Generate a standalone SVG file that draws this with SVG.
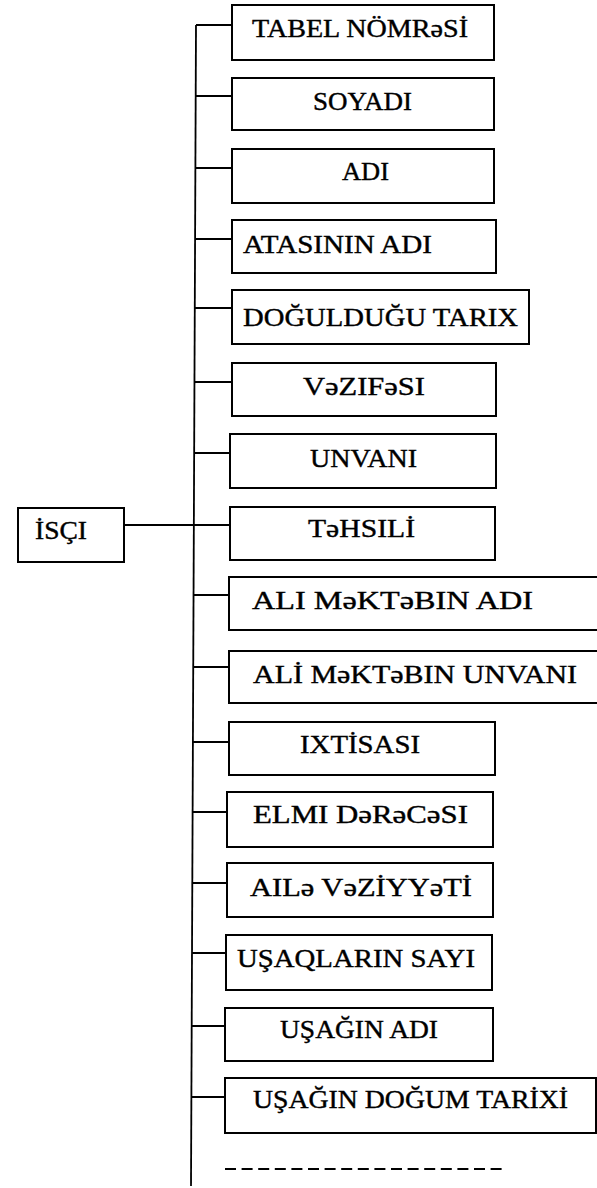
<svg xmlns="http://www.w3.org/2000/svg" width="597" height="1188" viewBox="0 0 597 1188">
<style>
.box{fill:#fff;stroke:#000;stroke-width:2}
.lbl{font-family:"Liberation Serif","Times New Roman",serif;font-size:26px;fill:#000;stroke:#000;stroke-width:0.4}
.ln{stroke:#000;stroke-width:1.8;fill:none}
</style>
<rect width="597" height="1188" fill="#fff"/>
<g id="connectors">
<path class="ln" d="M196,25 L191,1186"/>
<path class="ln" d="M196,25 H232"/>
<path class="ln" d="M195.7,96 H232"/>
<path class="ln" d="M195.4,168 H232"/>
<path class="ln" d="M195.1,239 H232"/>
<path class="ln" d="M194.8,308 H232"/>
<path class="ln" d="M194.5,382 H232"/>
<path class="ln" d="M194.2,453 H230"/>
<path class="ln" d="M124,525 H230"/>
<path class="ln" d="M193.6,595 H229"/>
<path class="ln" d="M193.3,667 H229"/>
<path class="ln" d="M193,742 H229"/>
<path class="ln" d="M192.7,812 H227"/>
<path class="ln" d="M192.4,883 H227"/>
<path class="ln" d="M192.1,953 H226"/>
<path class="ln" d="M191.8,1026 H225"/>
<path class="ln" d="M191.5,1097 H225"/>
<path class="ln" d="M225,1169 H507" stroke-dasharray="11,5.6"/>
</g>
<g id="isci"><rect class="box" x="18" y="508" width="106" height="54"/><text class="lbl" x="35" y="539" textLength="52" lengthAdjust="spacingAndGlyphs">İSÇI</text></g>
<g id="n1"><rect class="box" x="232" y="5" width="262" height="55"/><text class="lbl" x="252" y="37" textLength="216" lengthAdjust="spacingAndGlyphs">TABEL NÖMRəSİ</text></g>
<g id="n2"><rect class="box" x="232" y="78" width="262" height="52"/><text class="lbl" x="313" y="110" textLength="99" lengthAdjust="spacingAndGlyphs">SOYADI</text></g>
<g id="n3"><rect class="box" x="232" y="149" width="262" height="54"/><text class="lbl" x="342" y="180" textLength="47" lengthAdjust="spacingAndGlyphs">ADI</text></g>
<g id="n4"><rect class="box" x="232" y="220" width="264" height="53"/><text class="lbl" x="243" y="253" textLength="189" lengthAdjust="spacingAndGlyphs">ATASININ ADI</text></g>
<g id="n5"><rect class="box" x="232" y="290" width="297" height="54"/><text class="lbl" x="243" y="326" textLength="275" lengthAdjust="spacingAndGlyphs">DOĞULDUĞU TARIX</text></g>
<g id="n6"><rect class="box" x="232" y="363" width="264" height="53"/><text class="lbl" x="303" y="395" textLength="122" lengthAdjust="spacingAndGlyphs">VəZIFəSI</text></g>
<g id="n7"><rect class="box" x="230" y="434" width="266" height="54"/><text class="lbl" x="310" y="467" textLength="107" lengthAdjust="spacingAndGlyphs">UNVANI</text></g>
<g id="n8"><rect class="box" x="230" y="507" width="265" height="53"/><text class="lbl" x="308" y="537" textLength="107" lengthAdjust="spacingAndGlyphs">TəHSILİ</text></g>
<g id="n9"><rect class="box" x="229" y="577" width="380" height="53"/><text class="lbl" x="252" y="609" textLength="281" lengthAdjust="spacingAndGlyphs">ALI MəKTəBIN ADI</text></g>
<g id="n10"><rect class="box" x="229" y="651" width="380" height="52"/><text class="lbl" x="253" y="683" textLength="324" lengthAdjust="spacingAndGlyphs">ALİ MəKTəBIN UNVANI</text></g>
<g id="n11"><rect class="box" x="229" y="722" width="266" height="53"/><text class="lbl" x="300" y="753" textLength="120" lengthAdjust="spacingAndGlyphs">IXTİSASI</text></g>
<g id="n12"><rect class="box" x="227" y="792" width="266" height="55"/><text class="lbl" x="253" y="823" textLength="215" lengthAdjust="spacingAndGlyphs">ELMI DəRəCəSI</text></g>
<g id="n13"><rect class="box" x="227" y="863" width="266" height="54"/><text class="lbl" x="250" y="896" textLength="222" lengthAdjust="spacingAndGlyphs">AILə VəZİYYəTİ</text></g>
<g id="n14"><rect class="box" x="226" y="935" width="266" height="55"/><text class="lbl" x="237" y="967" textLength="238" lengthAdjust="spacingAndGlyphs">UŞAQLARIN SAYI</text></g>
<g id="n15"><rect class="box" x="225" y="1008" width="268" height="53"/><text class="lbl" x="280" y="1038" textLength="158" lengthAdjust="spacingAndGlyphs">UŞAĞIN ADI</text></g>
<g id="n16"><rect class="box" x="225" y="1078" width="371" height="55"/><text class="lbl" x="253" y="1108" textLength="315" lengthAdjust="spacingAndGlyphs">UŞAĞIN DOĞUM TARİXİ</text></g>
</svg>
